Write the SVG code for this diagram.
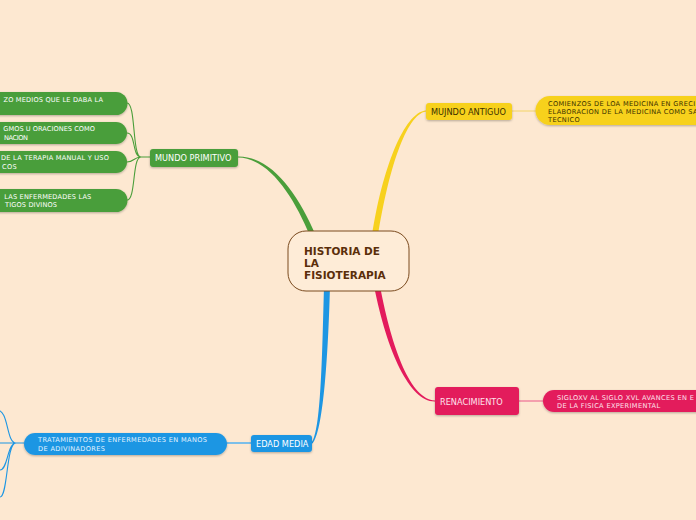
<svg xmlns="http://www.w3.org/2000/svg" width="696" height="520" viewBox="0 0 696 520">
<defs>
<filter id="sh" x="-10%" y="-30%" width="120%" height="170%">
<feDropShadow dx="0" dy="1" stdDeviation="0.8" flood-color="#000" flood-opacity="0.28"/>
</filter>
<style>
text{font-family:"DejaVu Sans","Verdana",sans-serif;}
.lbl{font-size:8.2px;}
.sm{font-size:6.6px;}
.ls{letter-spacing:0.35px;}
.w{fill:#ffffff;}
.dk{fill:#3a3000;}
.g{fill:#4a9e3a;}
.y{fill:#f7d11e;}
.r{fill:#e31b5c;}
.b{fill:#1d96e3;}
.cg{fill:none;stroke:#4a9e3a;stroke-width:1.1;}
.cb{fill:none;stroke:#1d96e3;stroke-width:1.1;}
</style>
</defs>
<rect width="696" height="520" fill="#fde8d1"/>
<g id="connectors">
<path d="M238,156.5 C271,156 298,193 316,236 L310,236 C294,197 269,158 238,157.5 Z" fill="#4a9e3a"/>
<path d="M426,110.5 C404,112 382,170 372,236 L378,236 C388,172 406,114 426,111.5 Z" fill="#f7d11e"/>
<path d="M435,400.5 C411,399.5 392,350 380,286 L374,286 C387,352 410,402 435,401.5 Z" fill="#e31b5c"/>
<path d="M311.5,443 C321,430 322,360 324,286 L330,286 C328,360 323,432 312.5,443.5 Z" fill="#1d96e3"/>
<path class="cg" d="M127,103 C136,103 132,157 141,157 M127,133 C136,133 132,157 141,157 M127,162 C134,162 134,157 141,157 M127,200 C136,200 132,157 141,157 M141,157 L150,157"/>
<path d="M512,111 L536,111" stroke="#f3d466" stroke-width="1" fill="none"/>
<path d="M519,401 L543,401" stroke="#ee6f94" stroke-width="1.2" fill="none"/>
<path d="M227,443 L251,443" stroke="#7cbfe9" stroke-width="2" fill="none"/>
<path class="cb" d="M-3,410 C9,410 6,443 16,443 M0,443 L24,443 M0,470 C8,470 7,443 16,443 M0,497 C8,497 6,443 16,443"/>
</g>
<g id="center">
<rect x="288" y="231" width="121" height="60" rx="18" fill="#feecd7" stroke="#7a4a1e" stroke-width="1"/>
<text x="304" y="255" font-size="10.5" font-weight="bold" fill="#5b2e0a">HISTORIA DE</text>
<text x="304" y="267" font-size="10.5" font-weight="bold" fill="#5b2e0a">LA</text>
<text x="304" y="279" font-size="10.5" font-weight="bold" fill="#5b2e0a">FISIOTERAPIA</text>
</g>
<g id="mundo-primitivo">
<rect class="g" x="150" y="149" width="88" height="18" rx="3" filter="url(#sh)"/>
<text class="lbl w" x="155" y="161">MUNDO PRIMITIVO</text>
</g>
<g id="mp-1">
<path class="g" d="M-20,92 H116 A11.5,11.5 0 0 1 116,115 H-20 Z" filter="url(#sh)"/>
<text class="sm w" x="3.5" y="102" textLength="99.5" lengthAdjust="spacing">ZO MEDIOS QUE LE DABA LA</text>
</g>
<g id="mp-2">
<path class="g" d="M-20,122 H116 A11,11 0 0 1 116,144 H-20 Z" filter="url(#sh)"/>
<text class="sm w" x="3.3" y="131" textLength="91.7" lengthAdjust="spacing">GMOS U ORACIONES COMO</text>
<text class="sm w" x="4" y="140" textLength="24" lengthAdjust="spacing">NACION</text>
</g>
<g id="mp-3">
<path class="g" d="M-20,151 H116 A11,11 0 0 1 116,173 H-20 Z" filter="url(#sh)"/>
<text class="sm w" x="1" y="160" textLength="108" lengthAdjust="spacing">DE LA TERAPIA MANUAL Y USO</text>
<text class="sm w ls" x="2" y="169">COS</text>
</g>
<g id="mp-4">
<path class="g" d="M-20,189 H116 A11.5,11.5 0 0 1 116,212 H-20 Z" filter="url(#sh)"/>
<text class="sm w" x="4.3" y="199" textLength="87" lengthAdjust="spacing">LAS ENFERMEDADES LAS</text>
<text class="sm w" x="5" y="207" textLength="52" lengthAdjust="spacing">TIGOS DIVINOS</text>
</g>
<g id="mundo-antiguo">
<rect class="y" x="426" y="103" width="86" height="17" rx="3" filter="url(#sh)"/>
<text class="lbl dk" x="431" y="115">MUJNDO ANTIGUO</text>
</g>
<g id="ma-1">
<path class="y" d="M720,96 H550 A14.5,14.5 0 0 0 550,125 H720 Z" filter="url(#sh)"/>
<text class="sm dk ls" x="548" y="106">COMIENZOS DE LOA MEDICINA EN GRECI</text>
<text class="sm dk ls" x="548" y="114">ELABORACION DE LA MEDICINA COMO SA</text>
<text class="sm dk ls" x="548" y="122">TECNICO</text>
</g>
<g id="renacimiento">
<rect class="r" x="435" y="387" width="84" height="28" rx="3" filter="url(#sh)"/>
<text class="lbl" x="440" y="405" fill="#fde3ec">RENACIMIENTO</text>
</g>
<g id="re-1">
<path class="r" d="M720,390 H554 A11,11 0 0 0 554,412 H720 Z" filter="url(#sh)"/>
<text class="sm ls" x="557" y="400" fill="#fde3ec">SIGLOXV AL SIGLO XVL AVANCES EN E</text>
<text class="sm ls" x="557" y="408" fill="#fde3ec">DE LA FISICA EXPERIMENTAL</text>
</g>
<g id="edad-media">
<rect class="b" x="251" y="435" width="61" height="17" rx="3" filter="url(#sh)"/>
<text class="lbl w" x="256" y="447">EDAD MEDIA</text>
</g>
<g id="em-1">
<rect class="b" x="24" y="433" width="203" height="22" rx="11" filter="url(#sh)"/>
<text class="sm" x="38" y="442" fill="#e3f3ff" textLength="169" lengthAdjust="spacing">TRATAMIENTOS DE ENFERMEDADES EN MANOS</text>
<text class="sm" x="38" y="451" fill="#e3f3ff" textLength="67" lengthAdjust="spacing">DE ADIVINADORES</text>
</g>
</svg>
